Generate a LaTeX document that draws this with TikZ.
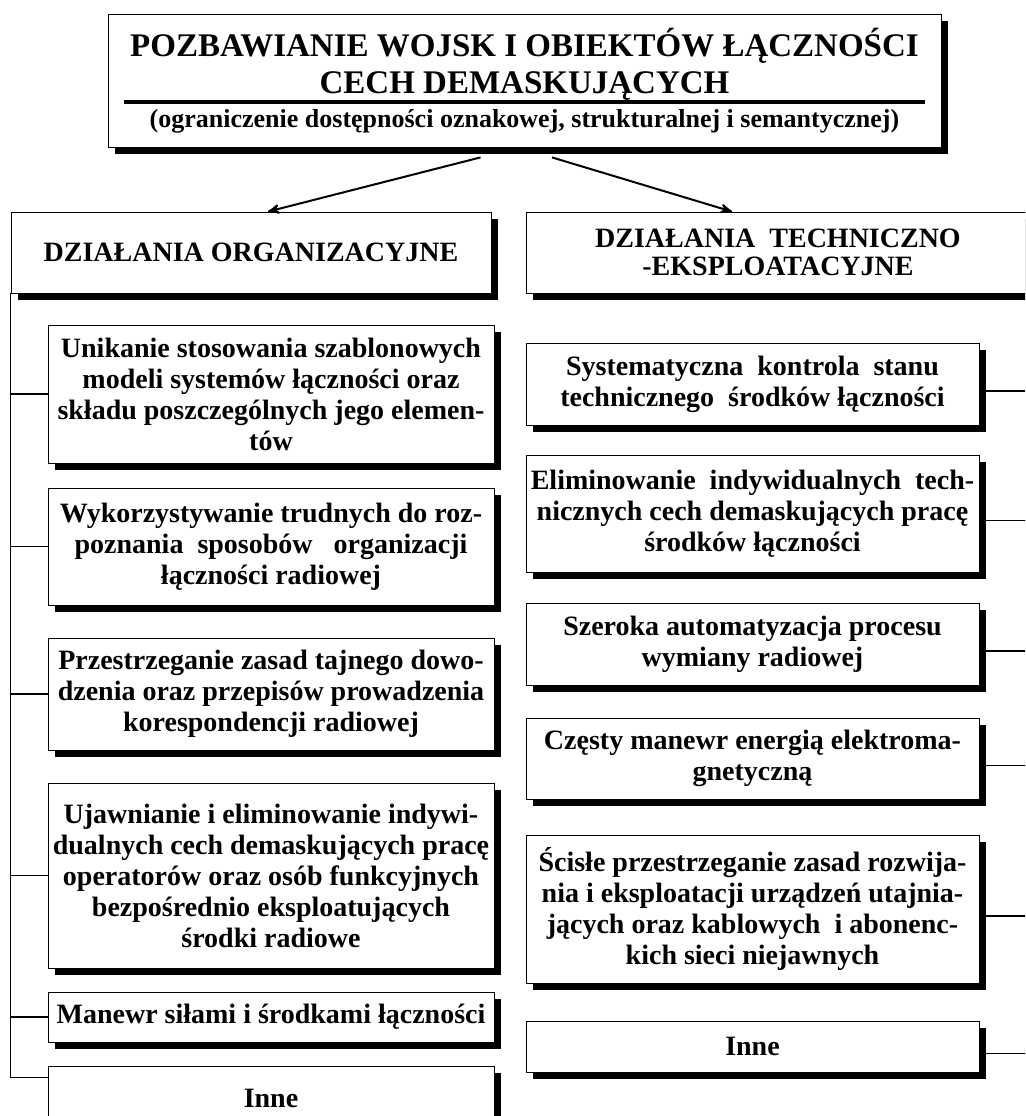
\documentclass[tikz,border=0pt]{standalone}
\usepackage{fontspec}
\setmainfont{Liberation Serif}
\usetikzlibrary{arrows,shadows}

\begin{document}
\begin{tikzpicture}[x=0.5pt,y=-0.5pt,>=stealth',semithick,
                    font=\bfseries\fontsize{14}{15.5}\selectfont]
  \tikzstyle{box}=[draw,fill=white,thin,align=center,inner sep=2pt,
                   general shadow={fill=black,shadow xshift=3.5pt,shadow yshift=-3.5pt}]
  \tikzstyle{leftbox}=[box,minimum width=223pt]
  \tikzstyle{rightbox}=[box,minimum width=226.5pt]

  \useasboundingbox (0,0) rectangle (1025,1116);
  \clip (0,0) rectangle (1025,1116);

  % top
  \node[box][minimum width=416.5pt,minimum height=66.5pt,
             font=\bfseries\fontsize{16.5}{18.5}\selectfont] (title) at (524.5,80.5)
    {POZBAWIANIE WOJSK I OBIEKTÓW ŁĄCZNOŚCI\\CECH DEMASKUJĄCYCH\\[-13pt]
     \rule{401pt}{2pt}\\[-7pt]
     {\fontsize{13}{15}\selectfont (ograniczenie dostępności oznakowej, strukturalnej i semantycznej)}};

  \node[box][minimum width=240pt,minimum height=40.5pt] (org) at (251,252.5)
    {DZIAŁANIA ORGANIZACYJNE};
  \node[box][minimum width=252pt,minimum height=40.5pt,
             font=\bfseries\fontsize{14}{14}\selectfont] (tech) at (778,252.5)
    {DZIAŁANIA\ \ TECHNICZNO\\-EKSPLOATACYJNE};

  \draw[->,line width=1pt] ([xshift=-22pt,yshift=-5pt]title.south) -- ([xshift=8.5pt]org.north);
  \draw[->,line width=1pt] ([xshift=13.75pt,yshift=-5pt]title.south) -- ([xshift=-23pt]tech.north);

  % left column
  \node[leftbox][minimum height=69pt] (unik) at (271,394)
    {Unikanie stosowania szablonowych\\modeli systemów łączności oraz\\składu poszczególnych jego elemen-\\tów};
  \node[leftbox][minimum height=58.5pt] (wyk) at (271,546.5)
    {Wykorzystywanie trudnych do roz-\\poznania\ \ sposobów\ \ \ organizacji\\łączności radiowej};
  \node[leftbox][minimum height=56pt] (przestr) at (271,694)
    {Przestrzeganie zasad tajnego dowo-\\dzenia oraz przepisów prowadzenia\\korespondencji radiowej};
  \node[leftbox][minimum height=92.5pt] (ujaw) at (271,875.5)
    {Ujawnianie i eliminowanie indywi-\\dualnych cech demaskujących pracę\\operatorów oraz osób funkcyjnych\\bezpośrednio eksploatujących\\środki radiowe};
  \node[leftbox][minimum height=25pt] (manewr) at (271,1017)
    {Manewr siłami i środkami łączności};
  \node[leftbox][minimum height=32pt] (inneL) at (271,1098) {Inne};

  \draw (org.south west) |- ([yshift=-6pt]inneL.north west);
  \foreach \b in {unik,wyk,przestr,ujaw,manewr}
    \draw (org.south west |- \b.west) -- (\b.west);

  % right column
  \node[rightbox][minimum height=41pt] (kontr) at (752.5,384)
    {Systematyczna\ \ kontrola\ \ stanu\\technicznego\ \ środków łączności};
  \node[rightbox][minimum height=58.5pt] (elim) at (752.5,513.5)
    {Eliminowanie\ \ indywidualnych\ \ tech-\\nicznych cech demaskujących pracę\\środków łączności};
  \node[rightbox][minimum height=41pt] (autom) at (752.5,644)
    {Szeroka automatyzacja procesu\\wymiany radiowej};
  \node[rightbox][minimum height=40.5pt] (energ) at (752.5,758.5)
    {Częsty manewr energią elektroma-\\gnetyczną};
  \node[rightbox][minimum height=74pt] (utajn) at (752.5,909)
    {Ścisłe przestrzeganie zasad rozwija-\\nia i eksploatacji urządzeń utajnia-\\jących oraz kablowych\ \ i abonenc-\\kich sieci niejawnych};
  \node[rightbox][minimum height=25.5pt] (inneR) at (752.5,1046.5) {Inne};

  \foreach \b in {kontr,elim,autom,energ,utajn,inneR}
    \draw ([yshift=-3.5pt]\b.east) -- +(40pt,0);
\end{tikzpicture}
\end{document}
